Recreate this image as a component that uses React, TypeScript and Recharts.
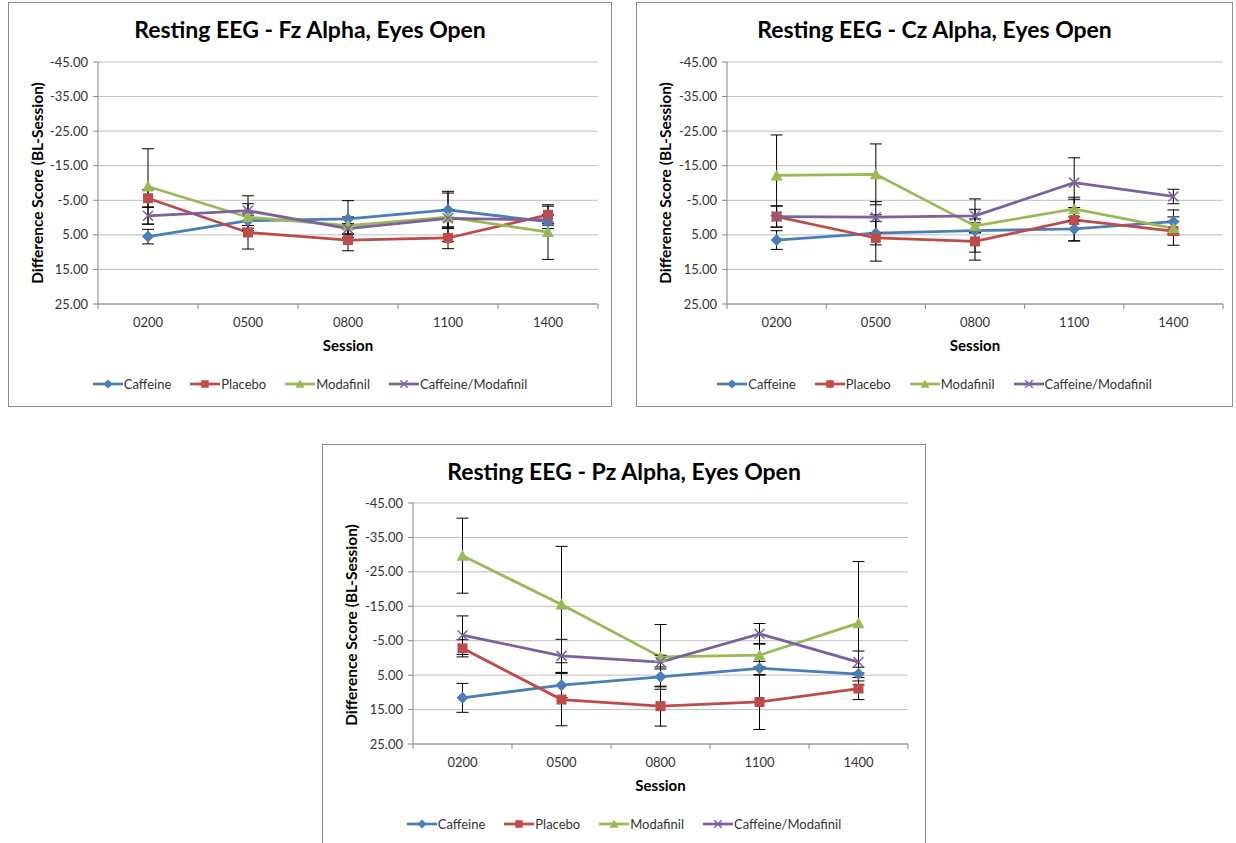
import React from "react";
import { LineChart, Line, XAxis, YAxis, CartesianGrid, ErrorBar } from "recharts";

const sessions = ["0200", "0500", "0800", "1100", "1400"];
const yTicks = [-45, -35, -25, -15, -5, 5, 15, 25];

// Fz
const fzCaffeine = [5.5, 0.9, 0.4, -2.2, 1.2];
const fzCaffeineErr = [2.1, 2.2, 5.3, 5.4, 2.0];
const fzPlacebo = [-5.6, 4.3, 6.5, 5.9, -0.8];
const fzPlaceboErr = [2.5, 4.8, 3.1, 3.1, 2.5];
const fzModafinil = [-9.0, -0.1, 2.3, -0.1, 4.2];
const fzModafinilErr = [10.9, 3.9, 2.5, 7.0, 7.9];
const fzCafMod = [-0.5, -2.0, 3.2, 0.2, 0.7];
const fzCafModErr = [2.4, 4.3, 1.5, 2.5, 1.5];

// Cz
const czCaffeine = [6.5, 4.5, 3.8, 3.3, 1.2];
const czCaffeineErr = [2.7, 3.4, 6.2, 3.5, 3.4];
const czPlacebo = [-0.3, 5.9, 6.9, 0.7, 3.9];
const czPlaceboErr = [3.1, 6.7, 5.4, 6.0, 4.1];
const czModafinil = [-12.2, -12.5, 2.4, -2.5, 3.1];
const czModafinilErr = [11.7, 8.8, 2.0, 3.4, 2.0];
const czCafMod = [-0.3, -0.1, -0.5, -10.1, -6.1];
const czCafModErr = [3.0, 4.5, 4.9, 7.2, 2.1];

// Pz
const pzCaffeine = [11.6, 7.9, 5.5, 3.0, 4.7];
const pzCaffeineErr = [4.2, 3.6, 2.9, 2.0, 2.0];
const pzPlacebo = [-2.8, 12.1, 14.0, 12.8, 8.9];
const pzPlaceboErr = [2.5, 7.6, 5.8, 8.0, 3.2];
const pzModafinil = [-29.7, -15.5, -0.3, -0.8, -10.1];
const pzModafinilErr = [10.9, 16.9, 9.4, 3.4, 17.9];
const pzCafMod = [-6.6, -0.6, 1.2, -7.0, 1.2];
const pzCafModErr = [5.6, 4.8, 2.0, 3.0, 3.2];

const FONT = "Lato, 'Open Sans', sans-serif";
const BLUE = "#4a7ebb";
const RED = "#be4b48";
const GREEN = "#98b954";
const PURPLE = "#7d60a0";

type Shape = "diamond" | "square" | "triangle" | "x";
type Series = { key: string; name: string; color: string; shape: Shape; values: number[]; errors: number[] };

const seriesMeta: { key: string; name: string; color: string; shape: Shape }[] = [
  { key: "caf", name: "Caffeine", color: BLUE, shape: "diamond" },
  { key: "pla", name: "Placebo", color: RED, shape: "square" },
  { key: "mod", name: "Modafinil", color: GREEN, shape: "triangle" },
  { key: "cm", name: "Caffeine/Modafinil", color: PURPLE, shape: "x" },
];

function makeSeries(vals: number[][], errs: number[][]): Series[] {
  return seriesMeta.map((m, i) => ({ ...m, values: vals[i], errors: errs[i] }));
}

function Marker({ shape, color, cx, cy, s = 1 }: { shape: Shape; color: string; cx: number; cy: number; s?: number }) {
  if (cx == null || cy == null) return null;
  const d = 6 * s;
  const h = 5 * s;
  if (shape === "diamond")
    return <polygon points={`${cx},${cy - d} ${cx + d},${cy} ${cx},${cy + d} ${cx - d},${cy}`} fill={color} />;
  if (shape === "square") return <rect x={cx - h} y={cy - h} width={2 * h} height={2 * h} fill={color} />;
  if (shape === "triangle")
    return <polygon points={`${cx},${cy - d} ${cx + d},${cy + h} ${cx - d},${cy + h}`} fill={color} />;
  return (
    <g stroke={color} strokeWidth={1.5}>
      <line x1={cx - h} y1={cy - h} x2={cx + h} y2={cy + h} />
      <line x1={cx - h} y1={cy + h} x2={cx + h} y2={cy - h} />
    </g>
  );
}

function Panel(props: {
  left: number; top: number; width: number; height: number; title: string;
  series: Series[]; plotLeft: number; plotRight: number; plotTop: number; plotBottom: number;
}) {
  const { left, top, width, height, title, series, plotLeft, plotRight, plotTop, plotBottom } = props;
  const band = (plotRight - plotLeft) / sessions.length;
  const rows = sessions.map((s, i) => {
    const r: any = { session: s };
    series.forEach((sr) => {
      r[sr.key] = sr.values[i];
      r[sr.key + "Err"] = sr.errors[i];
    });
    return r;
  });
  const yAxisW = 50;
  const xAxisH = 30;

  const XTick = ({ x, payload, index }: any) => (
    <g>
      <line x1={x - band / 2} y1={plotBottom} x2={x - band / 2} y2={plotBottom + 5} stroke="#868686" />
      {index === sessions.length - 1 && (
        <line x1={x + band / 2} y1={plotBottom} x2={x + band / 2} y2={plotBottom + 5} stroke="#868686" />
      )}
      <text x={x} y={plotBottom + 23} textAnchor="middle" fontSize={13} fill="#333" fontFamily={FONT}>
        {payload.value}
      </text>
    </g>
  );

  return (
    <div
      style={{
        position: "absolute", left, top, width, height, border: "1px solid #8c8c8c",
        boxSizing: "border-box", background: "#fff", fontFamily: FONT, overflow: "hidden",
      }}
    >
      <div style={{ position: "absolute", left: 0, width: "100%", top: 12, textAlign: "center", fontSize: 23, fontWeight: 700, color: "#000" }}>
        {title}
      </div>
      <div
        style={{
          position: "absolute", left: 28, top: 180, transform: "translate(-50%, -50%) rotate(-90deg)",
          whiteSpace: "nowrap", fontSize: 15.5, fontWeight: 700, color: "#000",
        }}
      >
        Difference Score (BL-Session)
      </div>
      <div style={{ position: "absolute", left: plotLeft, width: plotRight - plotLeft, top: plotBottom + 32, textAlign: "center", fontSize: 15, fontWeight: 700 }}>
        Session
      </div>
      <LineChart
        width={width - 2}
        height={height - 2}
        data={rows}
        margin={{ top: plotTop, left: plotLeft - yAxisW, right: width - 2 - plotRight, bottom: height - 2 - plotBottom - xAxisH }}
      >
        <CartesianGrid vertical={false} stroke="#bfbfbf" />
        <XAxis
          dataKey="session"
          height={xAxisH}
          padding={{ left: band / 2, right: band / 2 }}
          axisLine={{ stroke: "#868686" }}
          tickLine={false}
          tick={<XTick />}
          interval={0}
        />
        <YAxis
          width={yAxisW}
          reversed
          domain={[-45, 25]}
          ticks={yTicks}
          interval={0}
          allowDataOverflow
          axisLine={{ stroke: "#868686" }}
          tickLine={{ stroke: "#868686" }}
          tickSize={5}
          tickMargin={5}
          tickFormatter={(v: number) => v.toFixed(2)}
          tick={{ fontSize: 13, fill: "#333", fontFamily: FONT }}
        />
        {series.map((sr) => (
          <Line
            key={sr.key}
            dataKey={sr.key}
            name={sr.name}
            stroke={sr.color}
            strokeWidth={2.75}
            isAnimationActive={false}
            dot={(p: any) => <Marker key={`${sr.key}-${p.index}`} shape={sr.shape} color={sr.color} cx={p.cx} cy={p.cy} />}
            activeDot={false}
          >
            <ErrorBar dataKey={`${sr.key}Err`} width={6} strokeWidth={1} stroke="#000" direction="y" />
          </Line>
        ))}
      </LineChart>
      <div
        style={{
          position: "absolute", left: 0, width: "100%", top: plotBottom + 72, display: "flex",
          justifyContent: "center", alignItems: "center", gap: 19, fontSize: 13, color: "#333",
        }}
      >
        {series.map((sr) => (
          <div key={sr.key} style={{ display: "flex", alignItems: "center" }}>
            <svg width={30} height={14}>
              <line x1={0} y1={7} x2={30} y2={7} stroke={sr.color} strokeWidth={2.75} />
              <Marker shape={sr.shape} color={sr.color} cx={15} cy={7} s={0.75} />
            </svg>
            <span style={{ marginLeft: 1 }}>{sr.name}</span>
          </div>
        ))}
      </div>
    </div>
  );
}

export default function App() {
  const fz = makeSeries(
    [fzCaffeine, fzPlacebo, fzModafinil, fzCafMod],
    [fzCaffeineErr, fzPlaceboErr, fzModafinilErr, fzCafModErr]
  );
  const cz = makeSeries(
    [czCaffeine, czPlacebo, czModafinil, czCafMod],
    [czCaffeineErr, czPlaceboErr, czModafinilErr, czCafModErr]
  );
  const pz = makeSeries(
    [pzCaffeine, pzPlacebo, pzModafinil, pzCafMod],
    [pzCaffeineErr, pzPlaceboErr, pzModafinilErr, pzCafModErr]
  );
  return (
    <div style={{ position: "absolute", left: 0, top: 0, width: 1236, height: 843, background: "#fff", overflow: "hidden" }}>
      <Panel left={8} top={2} width={604} height={405} title="Resting EEG - Fz Alpha, Eyes Open" series={fz}
        plotLeft={89} plotRight={589} plotTop={59} plotBottom={301} />
      <Panel left={636} top={2} width={597} height={405} title="Resting EEG - Cz Alpha, Eyes Open" series={cz}
        plotLeft={90} plotRight={586} plotTop={59} plotBottom={301} />
      <Panel left={322} top={444} width={604} height={405} title="Resting EEG - Pz Alpha, Eyes Open" series={pz}
        plotLeft={90} plotRight={585} plotTop={58} plotBottom={299} />
    </div>
  );
}
